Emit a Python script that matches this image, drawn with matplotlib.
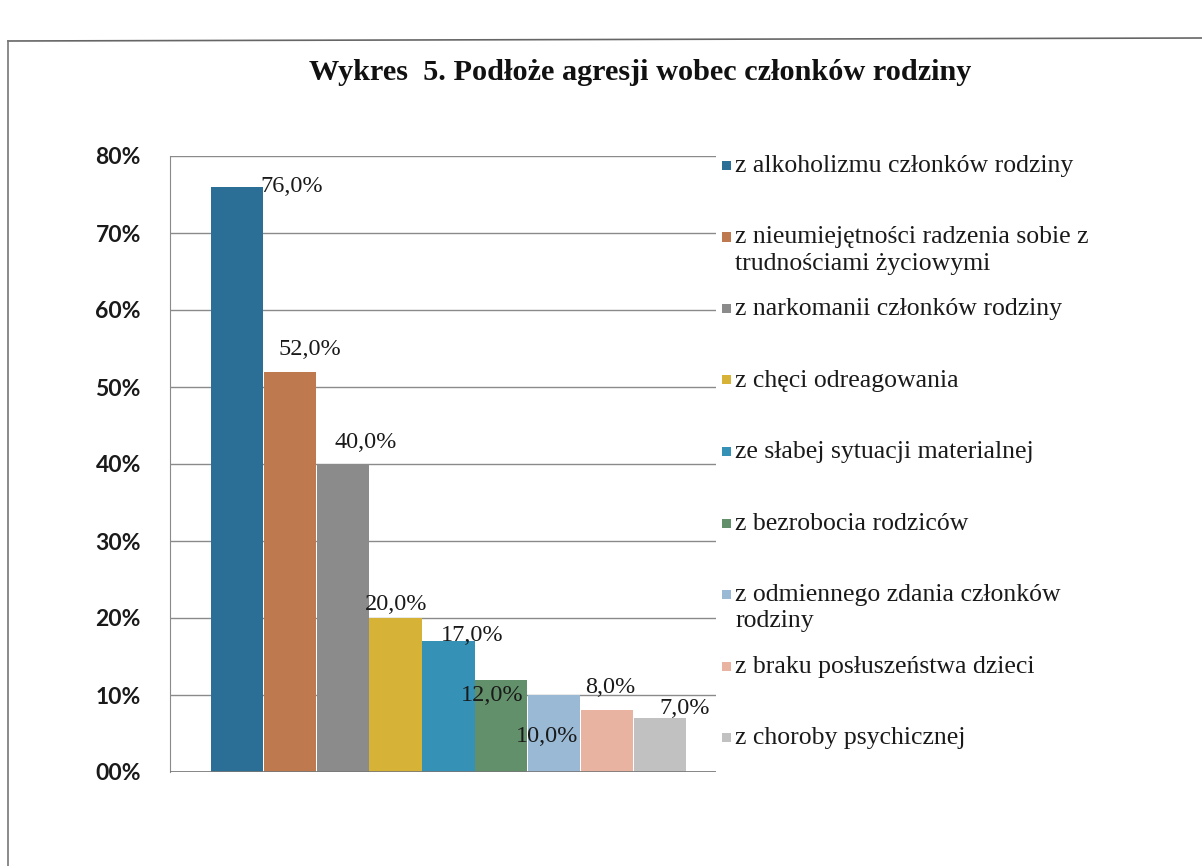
import matplotlib.pyplot as plt
from matplotlib.patches import Rectangle
from matplotlib.lines import Line2D

title = "Wykres  5. Podłoże agresji wobec członków rodziny"

categories = [
    "z alkoholizmu członków rodziny",
    "z nieumiejętności radzenia sobie z\ntrudnościami życiowymi",
    "z narkomanii członków rodziny",
    "z chęci odreagowania",
    "ze słabej sytuacji materialnej",
    "z bezrobocia rodziców",
    "z odmiennego zdania członków\nrodziny",
    "z braku posłuszeństwa dzieci",
    "z choroby psychicznej",
]
values = [76.0, 52.0, 40.0, 20.0, 17.0, 12.0, 10.0, 8.0, 7.0]
y_ticks = [0, 10, 20, 30, 40, 50, 60, 70, 80]
y_tick_labels = ["00%", "10%", "20%", "30%", "40%", "50%", "60%", "70%", "80%"]

colors = ["#2b6e96", "#be7a4e", "#8b8b8b", "#d6b236", "#3592b6",
          "#62906a", "#99b9d5", "#e9b3a2", "#c0c1c0"]
# label offsets (pixels) from the top centre of each bar, as in the scan
label_offsets = [(55, 0), (20, 22), (23, 21), (1, 14), (24, 6),
                 (-9, -16), (-7, -41), (3, 23), (25, 10)]

W, H = 1202, 866
fig = plt.figure(figsize=(W / 100, H / 100), dpi=100)
fig.patch.set_facecolor("white")

# page frame from the scanned document
fig.add_artist(Line2D([8 / W, 1.0], [1 - 41 / H, 1 - 38 / H], color="#666666", lw=1.2))
fig.add_artist(Line2D([8 / W, 8 / W], [0, 1 - 41 / H], color="#777777", lw=1.2))

fig.text(640 / W, 1 - 73 / H, title, ha="center", va="center",
         family="Liberation Serif", weight="bold", fontsize=21.8, color="#111111")

left, right, top, bottom = 170, 716, 156, 772
ax = fig.add_axes([left / W, 1 - bottom / H, (right - left) / W, (bottom - top) / H])
bar_w = 52.85
x0 = 237
xs = list(range(len(values)))
ax.bar(xs, values, width=0.99, color=colors, zorder=3)
ax.set_xlim((left - x0) / bar_w, (right - x0) / bar_w)
ax.set_ylim(0, 80)

ax.set_yticks(y_ticks)
ax.set_yticklabels(y_tick_labels, family="Lato", weight="bold", fontsize=16.5, color="#1a1a1a")
ax.tick_params(axis="y", length=0, pad=21)
ax.set_xticks([])
ax.grid(axis="y", color="#8a8a8a", lw=1, zorder=0)
for s in ["top", "right", "bottom"]:
    ax.spines[s].set_visible(False)
ax.spines["left"].set_color("#8a8a8a")
ax.axhline(0, color="#777777", lw=1.2, zorder=4)

for x, v, (dx, dy) in zip(xs, values, label_offsets):
    ax.annotate(f"{v:.1f}%".replace(".", ","), (x, v), xytext=(dx, dy),
                textcoords="offset pixels", ha="center", va="center",
                family="Liberation Serif", fontsize=17.5, color="#1a1a1a", zorder=5)

# legend drawn by hand: evenly spaced slots on the right
slot_top, slot_step = 165, 71.5
for i, (lab, c) in enumerate(zip(categories, colors)):
    y = slot_top + i * slot_step
    fig.add_artist(Rectangle((722 / W, 1 - (y + 5) / H), 9 / W, 9 / H,
                             facecolor=c, edgecolor="none"))
    fig.text(735 / W, 1 - (y - 10) / H, lab, ha="left", va="top",
             family="Liberation Serif", fontsize=18.5, color="#1a1a1a",
             linespacing=1.25)

fig.savefig("out.png", dpi=100)
